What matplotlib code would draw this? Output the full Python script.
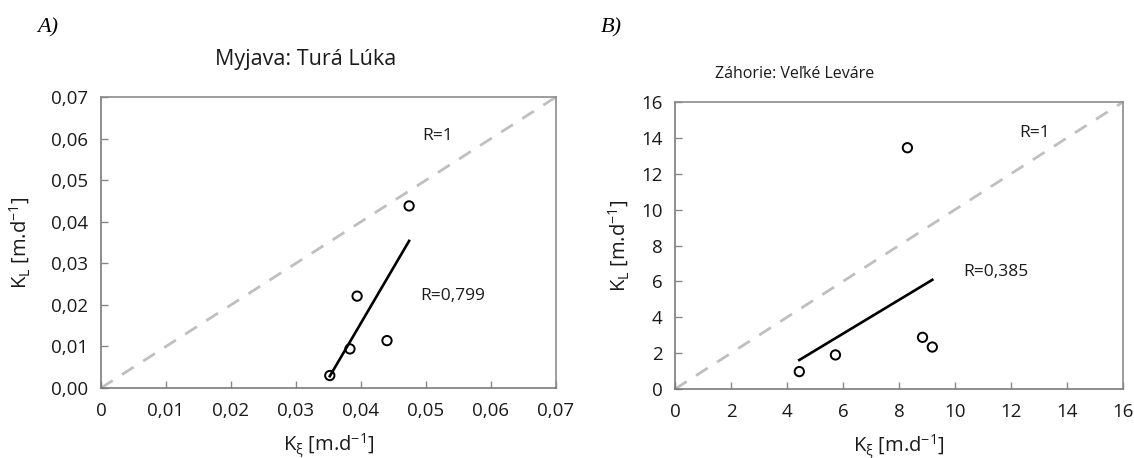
import numpy as np
import matplotlib
matplotlib.use("Agg")
import matplotlib.pyplot as plt

# ---- data ----
a_title = "Myjava: Turá Lúka"
a_x = [0.0352, 0.0383, 0.0394, 0.0440, 0.0474]
a_y = [0.0030, 0.0094, 0.0221, 0.0114, 0.0438]
a_ticks = [0, 0.01, 0.02, 0.03, 0.04, 0.05, 0.06, 0.07]
a_xticklabels = ["0", "0,01", "0,02", "0,03", "0,04", "0,05", "0,06", "0,07"]
a_yticklabels = ["0,00", "0,01", "0,02", "0,03", "0,04", "0,05", "0,06", "0,07"]
a_r = "R=0,799"

b_title = "Záhorie: Veľké Leváre"
b_x = [4.44, 5.73, 8.30, 8.84, 9.19]
b_y = [0.97, 1.90, 13.45, 2.88, 2.34]
b_ticks = [0, 2, 4, 6, 8, 10, 12, 14, 16]
b_ticklabels = ["0", "2", "4", "6", "8", "10", "12", "14", "16"]
b_r = "R=0,385"

FONT = ["Open Sans", "DejaVu Sans"]
plt.rcParams['font.family'] = FONT
plt.rcParams['mathtext.fontset'] = 'custom'
plt.rcParams['mathtext.rm'] = 'Open Sans'
plt.rcParams['mathtext.it'] = 'Open Sans:italic'
plt.rcParams['mathtext.bf'] = 'Open Sans:bold'

W, H = 1134, 458
fig = plt.figure(figsize=(W / 100, H / 100), dpi=100)

def px(x0, y0, x1, y1):
    return [x0 / W, 1 - y1 / H, (x1 - x0) / W, (y1 - y0) / H]

ax1 = fig.add_axes(px(101, 97, 556, 388))
ax2 = fig.add_axes(px(675, 102, 1123, 389))

TXT = "#1a1a1a"

def style(ax, ticks, xlabels, ylabels, lim):
    ax.set_xlim(0, lim)
    ax.set_ylim(0, lim)
    ax.set_xticks(ticks)
    ax.set_yticks(ticks)
    ax.set_xticklabels(xlabels)
    ax.set_yticklabels(ylabels)
    ax.tick_params(direction="in", length=5, width=1, color="#888888",
                   labelsize=13.5, labelcolor=TXT)
    ax.tick_params(axis="x", pad=10)
    ax.tick_params(axis="y", pad=9)
    for s in ax.spines.values():
        s.set_color("#8c8c8c")
        s.set_linewidth(1.2)
    ax.spines["left"].set_color("#7a7a7a")
    ax.spines["bottom"].set_color("#7a7a7a")
    ax.set_xlabel(r"K$_\mathrm{ξ}$ [m.d$^\mathrm{-1}$]", fontsize=14.5, labelpad=8, color=TXT)
    ax.set_ylabel(r"K$_\mathrm{L}$ [m.d$^\mathrm{-1}$]", fontsize=14.5, color=TXT)

def draw(ax, x, y, lim, r_text, r_pos, one_pos):
    ax.plot([0, lim], [0, lim], color="#bfbfbf", lw=2, dashes=(5, 4), zorder=1)
    x = np.asarray(x); y = np.asarray(y)
    k, q = np.polyfit(x, y, 1)
    xs = np.array([x.min(), x.max()])
    ax.plot(xs, k * xs + q, color="black", lw=1.9, zorder=2)
    ax.scatter(x, y, s=45, facecolors="none", edgecolors="black", linewidths=1.4, zorder=3)
    ax.text(r_pos[0], r_pos[1], r_text, fontsize=12.5, va="center", ha="left",
            color=TXT, zorder=4)
    ax.text(one_pos[0], one_pos[1], "R=1", fontsize=12.5, va="center", ha="left",
            color=TXT, zorder=4,
            bbox=dict(facecolor="white", edgecolor="none", pad=1))

style(ax1, a_ticks, a_xticklabels, a_yticklabels, 0.07)
draw(ax1, a_x, a_y, 0.07, a_r, (0.0491, 0.0221), (0.0495, 0.0606))
style(ax2, b_ticks, b_ticklabels, b_ticklabels, 16)
draw(ax2, b_x, b_y, 16, b_r, (10.29, 6.54), (12.3, 14.27))

# y-label centres at x≈20 px (left) and x≈619 px (right)
ax1.yaxis.set_label_coords((20 - 101) / (556 - 101), 0.5)
ax2.yaxis.set_label_coords((619 - 675) / (1123 - 675), 0.5)
ax1.yaxis.label.set_va("center")
ax2.yaxis.label.set_va("center")

fig.text(306 / W, 1 - 60 / H, a_title, fontsize=15.5, ha="center", va="center", color=TXT)
fig.text(795 / W, 1 - 74 / H, b_title, fontsize=11.5, ha="center", va="center", color=TXT)

fig.text(37 / W, 1 - 28 / H, "A)", fontsize=16, style="italic", ha="left", va="center",
         family=["Liberation Serif", "DejaVu Serif"])
fig.text(601 / W, 1 - 28 / H, "B)", fontsize=16, style="italic", ha="left", va="center",
         family=["Liberation Serif", "DejaVu Serif"])

fig.savefig("out.png", dpi=100)
